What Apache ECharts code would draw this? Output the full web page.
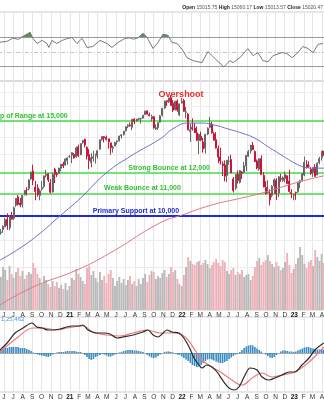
<!DOCTYPE html>
<html><head><meta charset="utf-8">
<script src="https://cdn.jsdelivr.net/npm/echarts@6/dist/echarts.min.js"></script>
<style>html,body{margin:0;padding:0;background:#fff}#c{width:324px;height:400px}</style>
</head><body><div id="c"></div>
<script>
// ---------- DATA ----------
const weekDates = [
'2020-05-22','2020-05-29','2020-06-05','2020-06-12','2020-06-19','2020-06-26','2020-07-02','2020-07-10','2020-07-17','2020-07-24','2020-07-31','2020-08-07','2020-08-14','2020-08-21','2020-08-28','2020-09-04','2020-09-11','2020-09-18','2020-09-25','2020-10-02','2020-10-09','2020-10-16','2020-10-23','2020-10-30','2020-11-06','2020-11-13','2020-11-20','2020-11-27','2020-12-04','2020-12-11','2020-12-18','2020-12-24','2020-12-31',
'2021-01-08','2021-01-15','2021-01-22','2021-01-29','2021-02-05','2021-02-12','2021-02-19','2021-02-26','2021-03-05','2021-03-12','2021-03-19','2021-03-26','2021-04-01','2021-04-09','2021-04-16','2021-04-23','2021-04-30','2021-05-07','2021-05-14','2021-05-21','2021-05-28','2021-06-04','2021-06-11','2021-06-18','2021-06-25','2021-07-02','2021-07-09','2021-07-16','2021-07-23','2021-07-30','2021-08-06','2021-08-13','2021-08-20','2021-08-27','2021-09-03','2021-09-10','2021-09-17','2021-09-24','2021-10-01','2021-10-08','2021-10-15','2021-10-22','2021-10-29','2021-11-05','2021-11-12','2021-11-19','2021-11-26','2021-12-03','2021-12-10','2021-12-17','2021-12-23','2021-12-31',
'2022-01-07','2022-01-14','2022-01-21','2022-01-28','2022-02-04','2022-02-11','2022-02-18','2022-02-25','2022-03-04','2022-03-11','2022-03-18','2022-03-25','2022-04-01','2022-04-08','2022-04-14','2022-04-22','2022-04-29','2022-05-06','2022-05-13','2022-05-20','2022-05-27','2022-06-03','2022-06-10','2022-06-17','2022-06-24','2022-07-01','2022-07-08','2022-07-15','2022-07-22','2022-07-29','2022-08-05','2022-08-12','2022-08-19','2022-08-26','2022-09-02','2022-09-09','2022-09-16','2022-09-23','2022-09-30','2022-10-07','2022-10-14','2022-10-21','2022-10-28','2022-11-04','2022-11-11','2022-11-18','2022-11-25','2022-12-02','2022-12-09','2022-12-16','2022-12-23','2022-12-30',
'2023-01-06','2023-01-13','2023-01-20','2023-01-27','2023-02-03','2023-02-10','2023-02-17','2023-02-24','2023-03-03','2023-03-10','2023-03-17','2023-03-24','2023-03-31','2023-04-06'];
const opens = [
9290,9420,9530,9850,9490,9960,9880,10460,10840,10560,10480,10950,11180,11220,11700,12110,11300,11260,10900,11200,11320,11880,11960,11500,11070,12200,11960,11990,12250,12470,12420,12660,12880,
12950,12990,12860,13420,12980,13680,13880,13400,13000,12540,12780,12900,12960,13300,13860,14030,13990,13900,13660,13350,13480,13720,13780,14080,14150,14380,14660,14750,14600,15130,15010,15120,15150,15190,15420,15670,15420,15140,15280,14500,14570,14930,15370,15860,16370,16290,16600,16200,15750,16350,15400,16200,
16380,15570,15450,14340,14600,14550,14260,13800,14050,13700,13350,14190,14600,14790,14200,13850,13340,12860,12480,12430,11880,12610,12720,11700,11250,11950,11530,12050,12030,12380,12900,13200,13510,13160,12640,12200,12770,11880,11280,11030,11000,10900,11350,11640,11020,11720,11630,11720,11860,11600,11050,10900,
11050,11080,11520,11640,11900,12450,12370,12190,12050,12310,11900,12550,12830,13180];
const highs = [
9440,9590,9900,10100,10020,10160,10400,10780,10930,10780,10920,11170,11300,11680,12070,12440,11600,11440,11200,11600,11880,12170,11980,11700,12030,12280,12060,12280,12470,12600,12770,12840,12970,
13120,13070,13460,13560,13640,13840,13900,13460,13300,13070,13200,13040,13230,13850,14050,14070,14100,13910,13670,13500,13720,13790,14080,14190,14380,14650,14790,14910,15130,15170,15140,15190,15200,15400,15680,15700,15560,15420,15330,14780,14900,15380,15860,16370,16410,16570,16760,16420,16360,16450,16170,16560,
16500,15930,15530,14820,15170,14870,14650,14200,14330,13950,14200,14600,15270,14950,14330,14300,13500,13380,12620,12670,12690,12900,12980,11800,11950,12130,12160,12100,12580,12960,13250,13530,13720,13220,12720,12790,12950,12050,11590,11640,11190,11390,11730,11740,11850,11960,11830,12080,11900,12170,11200,11000,
11080,11560,11660,12000,12880,12680,12630,12300,12300,12470,12560,12860,13200,13200];
const lows = [
9210,9290,9520,9410,9400,9840,9820,10380,10440,10370,10350,10900,10900,11150,11650,11400,10680,10850,10680,11130,11260,11780,11550,10990,11040,11500,11800,11950,12100,12260,12380,12440,12800,
12520,12760,12820,12850,12960,13600,13400,12720,12210,12300,12600,12500,12760,13270,13790,13690,13800,13330,12980,13100,13470,13560,13740,13920,14100,14350,14550,14650,14430,14800,14950,15030,14840,15160,15400,15440,15300,14970,14510,14440,14440,14900,15300,15810,16000,16200,16020,15590,15690,15610,15320,16180,
15600,15180,14420,13720,14400,14260,13760,13020,13760,13100,13050,14120,14560,14200,13810,13330,12520,12440,11850,11580,11540,12440,12010,11040,11160,11480,11480,11700,11990,12100,12850,13060,13250,12600,12200,12120,11920,11290,10970,11010,10440,10820,10980,10690,10830,11560,11560,11540,11450,11040,10780,10680,
10700,11030,11250,11590,11840,12230,12270,11900,11810,11830,11900,12460,12660,12920];
const closes = [
9325,9555,9824,9588,9946,9849,10341,10768,10503,10461,10905,11139,11178,11650,12056,11622,11088,10937,11119,11279,11853,11936,11655,11053,11938,11937,11930,12258,12467,12378,12755,12805,12888,
13105,12804,13367,12925,13612,13807,13535,12909,12668,12816,12868,12932,13210,13845,14042,13951,13860,13720,13380,13410,13687,13774,14070,14140,14359,14640,14740,14700,15120,14960,15130,15180,15180,15380,15650,15450,15340,15300,14565,14580,14900,15340,15850,16340,16300,16570,16030,15710,16330,15730,16150,16320,
15640,15610,14440,14440,14500,14260,13820,14170,13840,13300,14170,14550,14840,14270,13810,13360,12850,12640,12390,11840,12680,12640,12010,11130,11940,11630,12130,11990,12400,12950,13160,13530,13270,12600,12270,12760,11930,11310,10970,11050,10700,11340,11670,10980,11810,11690,11780,11930,11470,11090,10990,10940,
11040,11540,11620,11960,12570,12300,12360,11990,12290,11830,12520,12770,13180,13090];
const volumes = [
3.3,4.3,4.0,3.0,4.4,3.6,3.2,3.8,4.2,3.4,3.9,3.1,3.5,3.8,3.6,4.7,
4.2,3.6,3.2,2.6,3.4,3.0,2.6,2.3,
2.9,2.4,2.8,2.2,2.5,2.1,2.7,2.0,2.4,
3.2,3.0,4.1,3.6,3.3,2.9,2.6,4.2,4.4,3.5,3.9,3.2,2.8,3.8,3.0,
3.4,2.7,3.6,4.0,3.2,2.4,2.9,3.3,2.7,3.1,2.5,3.0,3.4,2.6,2.9,2.4,3.1,2.6,
3.2,3.6,2.8,3.5,3.9,3.8,3.1,3.4,3.2,3.7,4.0,3.3,3.6,4.3,
3.8,4.0,3.1,2.6,2.4,3.5,4.3,5.3,4.9,4.6,
4.5,4.8,4.9,4.5,4.7,5.0,4.6,4.2,4.5,4.8,
5.1,4.7,4.4,5.0,4.8,3.9,3.6,4.0,4.2,3.5,
3.8,3.6,4.0,3.3,3.5,3.6,3.0,3.4,4.3,4.9,
5.2,4.5,4.8,5.0,5.5,4.9,4.6,4.3,4.8,4.4,
4.0,4.2,4.8,5.7,4.5,3.7,4.1,4.6,5.2,6.3,
5.5,4.6,4.2,4.8,5.0,4.4,6.0,5.3,4.9,5.6,4.7];
const histogram = [
75,100,125,125,150,150,150,150,150,125,125,125,100,75,50,13,
-25,-38,-50,-63,-75,-88,-100,-75,-38,-13,13,25,25,25,
38,50,50,50,50,38,25,25,0,-50,
-100,-150,-175,-150,-100,-75,-50,-25,-38,-63,-88,-88,-63,-38,-13,13,25,
50,63,75,75,75,63,63,50,38,25,0,
-50,-88,-113,-125,-113,-75,-38,0,25,38,38,25,13,-13,-38,-50,
-88,-125,-163,-200,-250,-300,-325,-350,-338,-300,-250,-200,-163,-150,
-163,-188,-213,-238,-250,-250,-225,-200,-150,-113,-75,-38,-13,25,
75,125,163,188,200,188,150,113,75,38,0,-38,-75,-113,-125,-100,
-50,0,38,63,63,50,38,38,25,38,63,88,113,138,150,150,
125,113,100,88,88,75,88];

const ma50Dates = ['2020-05-19','2020-07-23','2020-09-27','2020-12-01','2021-02-05','2021-04-29','2021-07-23','2021-10-22','2021-12-06','2022-01-21','2022-03-05','2022-04-17','2022-06-01','2022-07-14','2022-08-25','2022-10-10','2022-11-21','2023-01-03','2023-02-04','2023-03-08','2023-04-10'];
const ma50 = [8264,8700,9277,10000,10780,12000,12958,13900,14556,14872,14872,14744,14494,14247,13943,13410,12958,12523,12309,12256,12256];
const ma200Dates = ['2020-05-12','2020-09-03','2021-01-24','2021-05-11','2021-10-20','2022-01-01','2022-04-08','2022-07-14','2022-09-17','2023-01-03','2023-03-21','2023-04-12'];
const ma200 = [6780,7360,7920,8513,9684,10025,10468,10784,11013,11494,11802,11870];

const rsiDates = ['2020-05-19','2020-06-10','2020-06-30','2020-07-17','2020-08-08','2020-08-25','2020-09-03','2020-09-16','2020-10-03','2020-10-19','2020-10-25','2020-11-04','2020-11-20','2020-12-07','2020-12-26',
'2021-01-08','2021-01-24','2021-02-10','2021-02-26','2021-03-17','2021-04-09','2021-05-02','2021-05-18','2021-06-07','2021-06-29','2021-07-16','2021-07-26','2021-08-11','2021-08-27','2021-09-09','2021-09-29','2021-10-15','2021-10-31','2021-11-16','2021-11-29','2021-12-16',
'2022-01-04','2022-01-17','2022-02-06','2022-03-07','2022-03-26','2022-04-25','2022-05-17','2022-06-06','2022-06-16','2022-07-08','2022-08-03','2022-08-20','2022-09-05','2022-09-21','2022-10-08','2022-10-24','2022-11-22','2022-12-08','2022-12-25',
'2023-01-13','2023-01-29','2023-02-15','2023-03-03','2023-03-19','2023-04-04'];
const rsi = [63.5,64.5,69,67.3,72.9,77,68.7,61.7,65.9,61.7,56.1,65.9,61.7,65.9,68.7,
69.8,61.7,68.7,56.1,57.5,65.9,61.7,56.1,63.1,68.5,69.5,67.5,69.5,75.7,70,54.7,63.1,74.3,72.9,63.1,61.7,
51.9,42.1,38,35.2,50.5,38,29.6,38,35.2,42.1,54.7,44.9,49.1,38,36.6,44.9,49.1,47.7,42.1,
49.1,57.5,54.7,49.1,60.3,61.7];
const rsiLevels = [70, 50, 30];

const macdDates = ['2020-05-19','2020-06-11','2020-07-07','2020-08-02','2020-08-31','2020-09-16','2020-10-03','2020-10-22','2020-11-07','2020-11-30','2020-12-23',
'2021-01-08','2021-01-28','2021-02-13','2021-03-01','2021-03-30','2021-04-25','2021-05-12','2021-06-03','2021-06-23','2021-07-26','2021-08-27','2021-09-12','2021-09-29','2021-10-15','2021-10-28','2021-11-13','2021-11-29','2021-12-22',
'2022-01-07','2022-01-24','2022-02-09','2022-02-25','2022-03-07','2022-03-23','2022-04-08','2022-04-25','2022-05-17','2022-06-03','2022-06-19','2022-07-05','2022-07-25','2022-08-10','2022-09-02','2022-09-18','2022-10-11','2022-10-30','2022-11-22','2022-12-15',
'2023-01-03','2023-01-26','2023-02-18','2023-03-09','2023-04-07'];
const macd = [75,250,500,625,750,650,625,575,575,600,650,
675,675,700,575,500,500,475,375,400,450,525,575,450,400,475,575,525,500,
375,150,-125,-300,-375,-300,-350,-475,-725,-875,-925,-850,-550,-375,-425,-600,-675,-625,-550,-475,
-475,-300,-125,75,250];
const signalDates = ['2020-05-19','2020-07-13','2020-09-03','2020-10-06','2020-11-20','2020-12-23',
'2021-02-13','2021-03-17','2021-05-02','2021-06-13','2021-07-26','2021-09-09','2021-10-21','2021-12-09',
'2022-01-11','2022-02-12','2022-03-07','2022-04-08','2022-05-11','2022-06-12','2022-07-15','2022-08-17','2022-09-18','2022-10-21','2022-11-22',
'2023-01-03','2023-02-18','2023-04-07'];
const signal = [25,375,625,625,575,625,675,525,450,425,500,575,500,500,400,75,-175,-350,-500,-675,-800,-625,-500,-600,-550,-475,-225,150];

const levelValues = [15000, 12000, 11000, 10000];
const levelLabels = ['Top of Range at 15,000', 'Strong Bounce at 12,000', 'Weak Bounce at 11,000', 'Primary Support at 10,000'];
const levelLabelDates = ['2020-08-24', '2021-11-20', '2021-08-25', '2021-08-04'];
const overshootDate = '2021-12-29';
const overshootPrice = 16380;
const overshootText = 'Overshoot';
const priceGridLevels = [7000, 8000, 9000, 13000, 14000, 16000, 17000];

const monthTicks = ['2020-06-01','2020-07-01','2020-08-01','2020-09-01','2020-10-01','2020-11-01','2020-12-01','2021-01-01','2021-02-01','2021-03-01','2021-04-01','2021-05-01','2021-06-01','2021-07-01','2021-08-01','2021-09-01','2021-10-01','2021-11-01','2021-12-01','2022-01-01','2022-02-01','2022-03-01','2022-04-01','2022-05-01','2022-06-01','2022-07-01','2022-08-01','2022-09-01','2022-10-01','2022-11-01','2022-12-01','2023-01-01','2023-02-01','2023-03-01','2023-04-01'];
const monthTickLabels = ['J','J','A','S','O','N','D','21','F','M','A','M','J','J','A','S','O','N','D','22','F','M','A','M','J','J','A','S','O','N','D','23','F','M','A'];

const headerText = '{b|Open} 15015.75 {b|High} 15060.17 {b|Low} 15013.57 {b|Close} 15020.47';
const macdText = '1,25,462';

// ---------- BUILD ----------
const t = s => { const p = s.split('-').map(Number); return new Date(p[0], p[1] - 1, p[2]).getTime(); };
const DAY = 864e5;
const axisMin = t('2020-05-12') + 0.5 * DAY;
const axisMax = t('2023-04-14') + 0.2 * DAY;
const tickTs = monthTicks.map(t);
const FONT = 'Liberation Sans, Arial, sans-serif';

function fmt(v) {
  let best = -1, bd = Infinity;
  tickTs.forEach((x, i) => { const d = Math.abs(x - v); if (d < bd) { bd = d; best = i; } });
  if (best < 0 || bd > DAY) return '';
  const s = monthTickLabels[best];
  return /\d/.test(s) ? '{y|' + s + '}' : s;
}
function xAxisFor(gi, labels) {
  return {
    type: 'value', gridIndex: gi, min: axisMin, max: axisMax, scale: true,
    axisLine: { show: false }, axisTick: { show: false }, splitLine: { show: false },
    axisLabel: labels ? {
      show: true, customValues: tickTs, formatter: fmt, fontSize: 6.5, color: '#333', margin: 1.5,
      fontFamily: FONT, hideOverlap: false, showMinLabel: true, showMaxLabel: true,
      rich: { y: { fontWeight: 'bold', fontSize: 6.5, color: '#111', fontFamily: FONT } }
    } : { show: false }
  };
}
function vGridSeries(xi, yi, yv) {
  return {
    type: 'line', xAxisIndex: xi, yAxisIndex: yi, data: [[tickTs[0], yv]], symbol: 'none',
    lineStyle: { width: 0 }, silent: true, z: 0,
    markLine: { silent: true, symbol: ['none', 'none'], label: { show: false }, z: 0, animation: false,
      lineStyle: { color: '#e6e6e6', width: 1, type: 'solid' },
      data: tickTs.map(v => ({ xAxis: v })) }
  };
}

const candleData = weekDates.map((d, i) => [t(d), opens[i], closes[i], lows[i], highs[i]]);
const volData = weekDates.map((d, i) => ({ value: [t(d), volumes[i]],
  itemStyle: { color: closes[i] >= opens[i] ? '#b9b9b9' : '#efb0b8' } }));
const histData = weekDates.map((d, i) => [t(d), histogram[i]]);
const rsiData = rsiDates.map((d, i) => [t(d), rsi[i]]);
const levelColors = ['#44dd44', '#44dd44', '#44dd44', '#1f2ad8'];
const levelTextColors = ['#34c034', '#34c034', '#34c034', '#1f2ad8'];

const gridBase = { left: -2, width: 328, outerBoundsMode: 'none', containLabel: false };
const option = {
  animation: false,
  backgroundColor: '#fff',
  textStyle: { fontFamily: FONT },
  title: [
    { text: headerText, right: 1, top: 5, padding: 0,
      textStyle: { fontSize: 5, color: '#555', fontWeight: 'normal', fontFamily: FONT,
        rich: { b: { fontSize: 5, fontWeight: 'bold', color: '#222', fontFamily: FONT } } } },
    { text: macdText, left: 1, top: 316, padding: 0,
      textStyle: { fontSize: 6, color: '#45a0dd', fontWeight: 'normal', fontFamily: FONT } }
  ],
  grid: [
    Object.assign({ top: 12, height: 69, show: true, borderColor: '#cfcfcf', borderWidth: 1 }, gridBase),
    Object.assign({ top: 12, height: 25.05, show: false }, gridBase),
    Object.assign({ top: 81, height: 229, show: true, borderColor: '#cfcfcf', borderWidth: 1 }, gridBase),
    Object.assign({ top: 240, height: 70, show: false }, gridBase),
    Object.assign({ top: 317, height: 75, show: true, borderColor: '#cfcfcf', borderWidth: 1 }, gridBase)
  ],
  xAxis: [xAxisFor(0, false), xAxisFor(1, false), xAxisFor(2, false), xAxisFor(3, true), xAxisFor(4, true)],
  yAxis: [
    { type: 'value', gridIndex: 0, min: 10, max: 105, show: false, splitLine: { show: false } },
    { type: 'value', gridIndex: 1, min: 70, max: 105, show: false, splitLine: { show: false } },
    { type: 'log', gridIndex: 2, min: 6672, max: 17810, show: false, splitLine: { show: false } },
    { type: 'value', gridIndex: 3, min: 0, max: 7, show: false, splitLine: { show: false } },
    { type: 'value', gridIndex: 4, min: -975, max: 900, show: false, splitLine: { show: false } }
  ],
  series: [
    vGridSeries(0, 0, 50),
    vGridSeries(2, 2, 12000),
    vGridSeries(4, 4, 0),
    { type: 'line', xAxisIndex: 2, yAxisIndex: 2, data: [[tickTs[0], 12000]], symbol: 'none', lineStyle: { width: 0 }, silent: true, z: 0,
      markLine: { silent: true, symbol: ['none', 'none'], label: { show: false }, z: 0,
        lineStyle: { color: '#ececec', width: 1, type: 'solid' }, data: priceGridLevels.map(v => ({ yAxis: v })) } },
    { type: 'line', xAxisIndex: 1, yAxisIndex: 1, data: rsiData, symbol: 'none', clip: true, silent: true, z: 1,
      lineStyle: { width: 0 }, areaStyle: { origin: 'start', color: '#5f8f5f', opacity: 1 } },
    { type: 'line', xAxisIndex: 0, yAxisIndex: 0, data: rsiData, symbol: 'none', z: 3,
      lineStyle: { color: '#7a7a7a', width: 1 },
      markLine: { silent: true, symbol: ['none', 'none'], label: { show: false }, z: 1,
        data: rsiLevels.map(v => ({ yAxis: v, lineStyle: v === 50
          ? { color: '#c4c4c4', width: 1, type: [4, 2, 1, 2] }
          : { color: '#9a9a9a', width: 1, type: 'solid' } })) } },
    { type: 'bar', xAxisIndex: 3, yAxisIndex: 3, data: volData, barWidth: 1.9, z: 1, silent: true },
    { type: 'line', xAxisIndex: 2, yAxisIndex: 2, data: [[tickTs[0], 12000]], symbol: 'none', lineStyle: { width: 0 }, silent: true, z: 2,
      markLine: { silent: true, symbol: ['none', 'none'], label: { show: false }, z: 2,
        data: levelValues.map((v, i) => ({ yAxis: v, lineStyle: { color: levelColors[i], width: i === 3 ? 2 : 1.5, type: 'solid' } })) } },
    { type: 'candlestick', xAxisIndex: 2, yAxisIndex: 2, data: candleData, encode: { x: 0, y: [1, 2, 3, 4] },
      barWidth: 1.5, z: 3,
      itemStyle: { color: '#ffffff', color0: '#dc1a40', borderColor: '#666666', borderColor0: '#d01438', borderWidth: 1 } },
    { type: 'line', xAxisIndex: 2, yAxisIndex: 2, data: ma50Dates.map((d, i) => [t(d), ma50[i]]), symbol: 'none', smooth: 0.5, z: 4,
      lineStyle: { color: '#6c6cd2', width: 1 } },
    { type: 'line', xAxisIndex: 2, yAxisIndex: 2, data: ma200Dates.map((d, i) => [t(d), ma200[i]]), symbol: 'none', smooth: 0.5, z: 4,
      lineStyle: { color: '#e27582', width: 1 } },
    { type: 'scatter', xAxisIndex: 2, yAxisIndex: 2, symbol: 'circle', symbolSize: 1, itemStyle: { color: 'rgba(0,0,0,0)' }, z: 6, clip: false, silent: true,
      labelLayout: { hideOverlap: false },
      data: levelLabelDates.map((d, i) => ({ value: [t(d), levelValues[i]],
        label: { show: true, position: 'top', distance: 1, formatter: levelLabels[i], color: levelTextColors[i],
          fontSize: 7, fontWeight: 'bold', fontFamily: FONT, opacity: 1 } }))
        .concat([{ value: [t(overshootDate), overshootPrice],
          label: { show: true, position: 'top', distance: 1, formatter: overshootText, color: '#ee2a2a',
            fontSize: 9, fontWeight: 'bold', fontFamily: FONT, opacity: 1 } }]) },
    { type: 'bar', xAxisIndex: 4, yAxisIndex: 4, data: histData, barWidth: 1.6, z: 1, silent: true,
      itemStyle: { color: '#3a8cc2' },
      markLine: { silent: true, symbol: ['none', 'none'], label: { show: false }, z: 1,
        lineStyle: { color: '#aaaaaa', width: 1, type: 'solid' }, data: [{ yAxis: 0 }] } },
    { type: 'line', xAxisIndex: 4, yAxisIndex: 4, data: signalDates.map((d, i) => [t(d), signal[i]]), symbol: 'none', smooth: 0.4, z: 3,
      lineStyle: { color: '#f07878', width: 1.2 } },
    { type: 'line', xAxisIndex: 4, yAxisIndex: 4, data: macdDates.map((d, i) => [t(d), macd[i]]), symbol: 'none', smooth: 0.3, z: 4,
      lineStyle: { color: '#2a2a2a', width: 1.2 } }
  ]
};
const chart = echarts.init(document.getElementById('c'), null, { renderer: 'canvas', width: 324, height: 400 });
chart.setOption(option);
</script>
</body></html>
